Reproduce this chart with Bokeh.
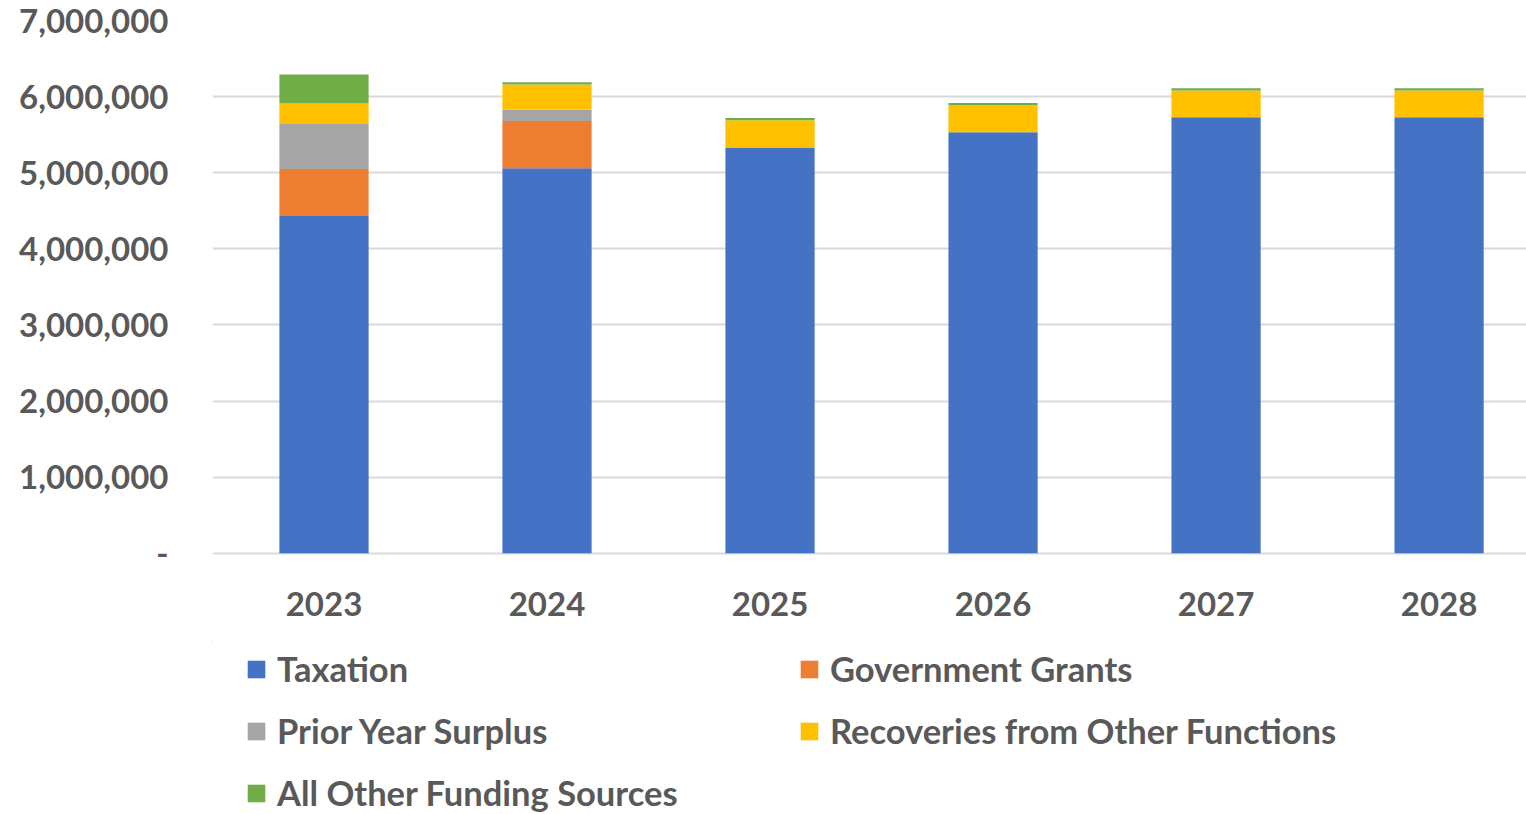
from bokeh.plotting import figure
from bokeh.layouts import column
from bokeh.models import (Legend, LegendItem, FixedTicker, NumeralTickFormatter, ColumnDataSource,
                          Range1d, CDSView, IndexFilter)
from bokeh.embed import file_html
from bokeh.resources import INLINE

years = ["2023", "2024", "2025", "2026", "2027", "2028"]
taxation = [4430000, 5060000, 5330000, 5530000, 5730000, 5730000]
grants = [620000, 620000, 0, 0, 0, 0]
prior = [600000, 150000, 0, 0, 0, 0]
recoveries = [260000, 330000, 360000, 360000, 350000, 350000]
other = [380000, 30000, 30000, 25000, 30000, 30000]

series = ["Taxation", "Government Grants", "Prior Year Surplus",
          "Recoveries from Other Functions", "All Other Funding Sources"]
keys = ["tax", "grants", "prior", "rec", "other"]
colors = ["#4472C4", "#ED7D31", "#A5A5A5", "#FFC000", "#70AD47"]

src = ColumnDataSource(dict(x=list(range(len(years))), tax=taxation, grants=grants,
                            prior=prior, rec=recoveries, other=other))

FONT = "Lato"
TXT = "#595959"
W = 1526

p = figure(width=W, height=640, output_backend="svg", toolbar_location=None,
           x_range=Range1d(-0.5, 5.392), y_range=Range1d(-30000, 7000000),
           min_border_left=212, min_border_right=0, min_border_top=20, min_border_bottom=85)
p.outline_line_color = None

p.vbar_stack(keys, x="x", width=0.4, source=src, color=colors, line_color=None)

p.yaxis.ticker = FixedTicker(ticks=[i * 1000000 for i in range(8)])
p.yaxis.formatter = NumeralTickFormatter(format="0,0")
p.yaxis.major_label_overrides = {0: "-"}
p.xaxis.ticker = FixedTicker(ticks=list(range(len(years))))
p.xaxis.major_label_overrides = {i: y for i, y in enumerate(years)}
for ax in (p.xaxis, p.yaxis):
    ax.axis_line_color = None
    ax.major_tick_line_color = None
    ax.minor_tick_line_color = None
    ax.major_label_text_font = FONT
    ax.major_label_text_font_style = "bold"
    ax.major_label_text_font_size = "33px"
    ax.major_label_text_color = TXT
p.yaxis.major_label_standoff = 38
p.xaxis.major_label_standoff = 30
p.xgrid.grid_line_color = None
p.ygrid.grid_line_color = "#D9D9D9"
p.ygrid.grid_line_width = 2

# legend-only figure below the chart; its single bar per series lies outside both ranges
pl = figure(width=W, height=174, output_backend="svg", toolbar_location=None,
            x_axis_type=None, y_axis_type=None,
            x_range=Range1d(100, 101), y_range=Range1d(-2e7, -1e7),
            min_border_left=212, min_border_right=0, min_border_top=0, min_border_bottom=0)
pl.outline_line_color = None
pl.grid.visible = False
lrs = pl.vbar_stack(keys, x="x", width=0.4, source=src, color=colors, line_color=None,
                    view=CDSView(filter=IndexFilter(indices=[0])))

items = [LegendItem(label=s, renderers=[r]) for s, r in zip(series, lrs)]
# column-major fill: left column Taxation / Prior / Other, right column Grants / Recoveries
ordered = [items[0], items[2], items[4], items[1], items[3]]
legend = Legend(items=ordered, ncols=2, location=(33, 1),
                label_text_font=FONT, label_text_font_style="bold",
                label_text_font_size="34.5px", label_text_color=TXT,
                glyph_width=22, glyph_height=22, label_standoff=10,
                label_width=500, label_height=31, spacing=21,
                border_line_color=None, background_fill_alpha=0,
                margin=0, padding=0)
pl.add_layout(legend, "center")

open("out.html", "w").write(file_html(column(p, pl, spacing=0), INLINE))
